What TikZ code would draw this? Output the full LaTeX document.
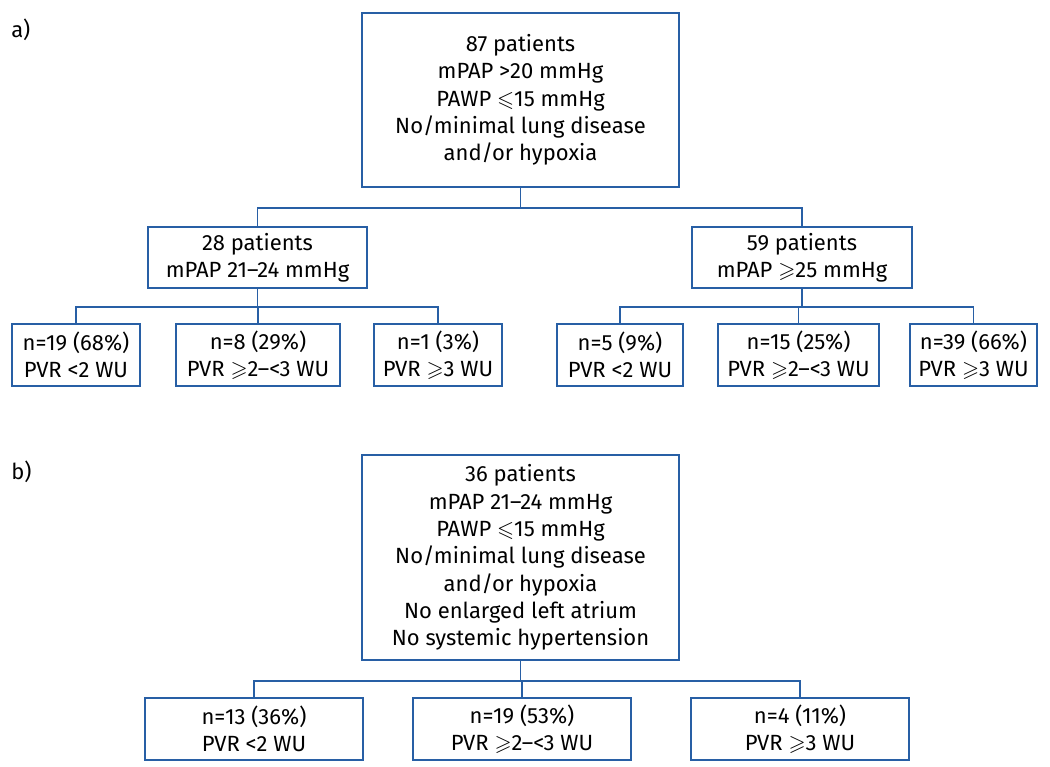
\documentclass[tikz,border=0pt]{standalone}
\usepackage{amssymb}
\usepackage{fontspec}
\setmainfont{Fira Sans}
\usepackage{tikz}
\usetikzlibrary{positioning}
\definecolor{boxblue}{RGB}{40,95,165}
\newcommand{\pxu}{0.75pt}
\newcommand{\geqs}{$\geqslant$}
\newcommand{\leqs}{$\leqslant$}
\tikzset{
		box/.style={
			rectangle,
			draw=boxblue, line width=1.3pt,
			align=center,
			inner sep=2pt,
			font=\fontsize{16.5}{20.5}\selectfont},
		line/.style={draw=boxblue, line width=1.3pt},
		tag/.style={anchor=north west, inner sep=0pt,
			font=\fontsize{16.5}{20}\selectfont},
	}
\begin{document}
\begin{tikzpicture}[
			x=\pxu, y=-\pxu,
			small/.style = {box, minimum height=62*\pxu},
			]
			\useasboundingbox (0,0) rectangle (1050,767);
			% panel a
			\node[tag] (taga) at (11,19) {a)};
			\node[box, minimum width=317*\pxu, minimum height=174*\pxu] (topa) at (520.5,100)
			{87 patients\\ mPAP >20 mmHg\\ PAWP \leqs15 mmHg\\
			No/minimal lung disease\\ and/or hypoxia};
			\node[box, minimum width=219*\pxu, minimum height=61*\pxu] (pa) at (257.5,257.5)
			{28 patients\\ mPAP 21--24 mmHg};
			\node[box, minimum width=220*\pxu, minimum height=61*\pxu] (pb) at (802,257.5)
			{59 patients\\ mPAP \geqs25 mmHg};
			
			\node[small, minimum width=128*\pxu] (a1) at (76,355) {n=19 (68\%)\\ PVR <2 WU};
			\node[small, minimum width=164*\pxu] (a2) at (258,355) {n=8 (29\%)\\ PVR \geqs2--<3 WU};
			\node[small, minimum width=128*\pxu] (a3) at (438,355) {n=1 (3\%)\\ PVR \geqs3 WU};
			\node[small, minimum width=126*\pxu] (a4) at (620,355) {n=5 (9\%)\\ PVR <2 WU};
			\node[small, minimum width=161*\pxu] (a5) at (798.5,355) {n=15 (25\%)\\ PVR \geqs2--<3 WU};
			\node[small, minimum width=127*\pxu] (a6) at (973.5,355) {n=39 (66\%)\\ PVR \geqs3 WU};
			
			\draw[line] (topa.south) -- ++(0,20) -| (pa.north);
			\draw[line] (topa.south) -- ++(0,20) -| (pb.north);
			\foreach \k in {a1,a2,a3}
				\draw[line] (pa.south) -- ++(0,18) -| (\k.north);
			\foreach \k in {a4,a5,a6}
				\draw[line] (pb.south) -- ++(0,18) -| (\k.north);
			
			% panel b
			\node[tag] (tagb) at (11,461) {b)};
			\node[box, minimum width=317*\pxu, minimum height=205*\pxu] (topb) at (520.5,557.5)
			{36 patients\\ mPAP 21--24 mmHg\\ PAWP \leqs15 mmHg\\
			No/minimal lung disease\\ and/or hypoxia\\
			No enlarged left atrium\\ No systemic hypertension};
			\node[small, minimum width=218*\pxu] (b1) at (254,729) {n=13 (36\%)\\ PVR <2 WU};
			\node[small, minimum width=218*\pxu] (b2) at (522,729) {n=19 (53\%)\\ PVR \geqs2--<3 WU};
			\node[small, minimum width=218*\pxu] (b3) at (800,729) {n=4 (11\%)\\ PVR \geqs3 WU};
			
			\foreach \k in {b1,b2,b3}
				\draw[line] (topb.south) -- ++(0,20) -| (\k.north);
\end{tikzpicture}
\end{document}
